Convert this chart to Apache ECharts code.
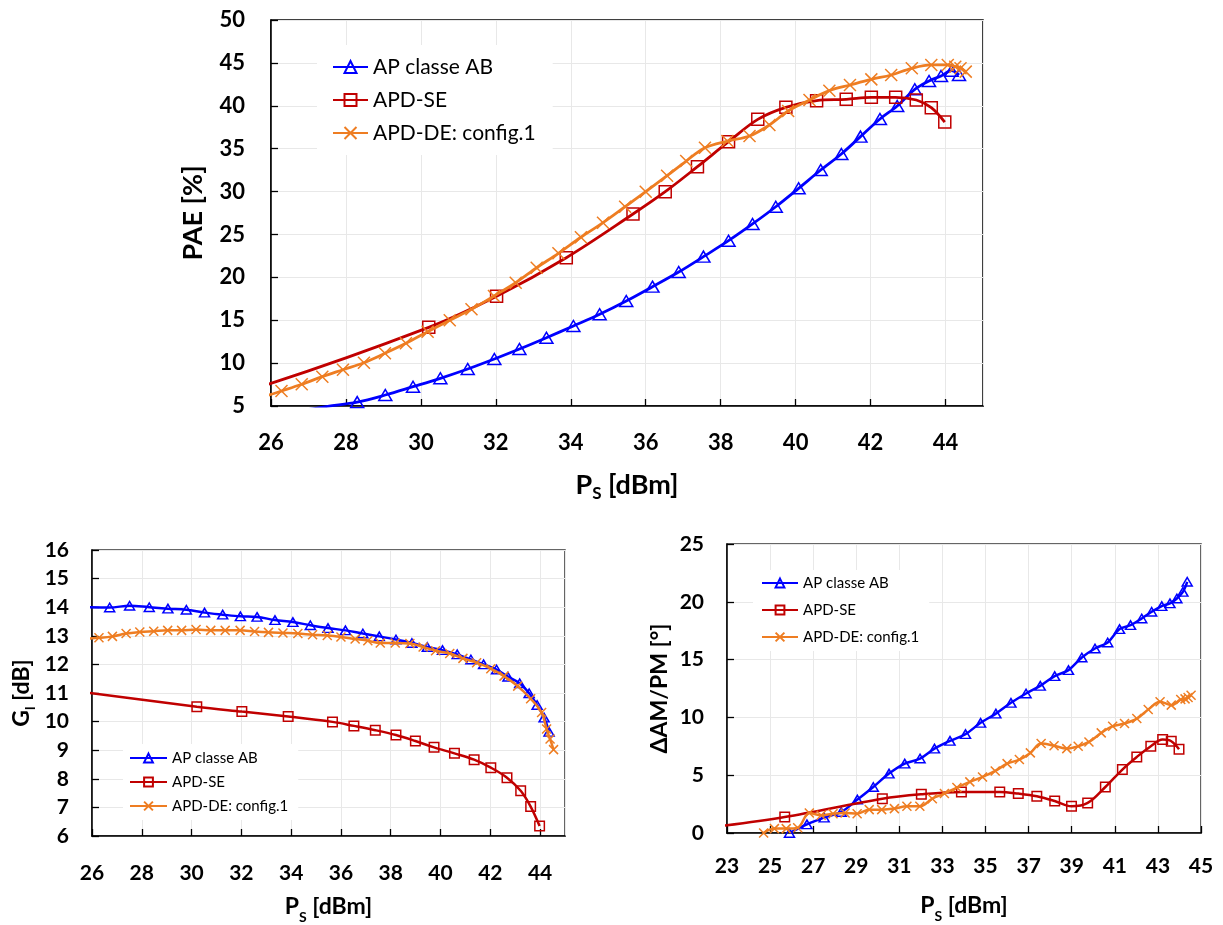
<!DOCTYPE html>
<html><head><meta charset="utf-8">
<script src="https://cdn.jsdelivr.net/npm/echarts@6/dist/echarts.min.js"></script>
<style>html,body{margin:0;padding:0;background:#fff}#c{width:1223px;height:925px}</style>
</head><body><div id="c"></div>
<script>
// ---------- DATA ----------
const seriesNames = ['AP classe AB', 'APD-SE', 'APD-DE: config.1'];

// Input power sweeps (dBm) for each amplifier
const psAB = [25.9, 26.71, 27.51, 28.3, 29.05, 29.79, 30.52, 31.25, 31.96, 32.63, 33.35, 34.07, 34.77, 35.48, 36.18, 36.88, 37.54, 38.21, 38.85, 39.47, 40.08, 40.67, 41.22, 41.73, 42.25, 42.71, 43.18, 43.56, 43.88, 44.16, 44.36];
const psSE = [22.3, 25.68, 30.21, 32.02, 33.88, 35.66, 36.52, 37.38, 38.21, 38.99, 39.74, 40.56, 41.35, 42.02, 42.67, 43.22, 43.62, 43.98];
const psDE = [24.7, 25.2, 25.75, 26.28, 26.82, 27.37, 27.92, 28.48, 29.04, 29.6, 30.18, 30.77, 31.35, 31.95, 32.53, 33.09, 33.67, 34.27, 34.86, 35.45, 36.0, 36.57, 37.08, 37.58, 38.18, 38.77, 39.3, 39.8, 40.37, 40.9, 41.45, 42.02, 42.55, 43.1, 43.62, 44.06, 44.26, 44.4, 44.54];

// PAE [%]
const paeAB = [3.9, 4.4, 4.95, 5.45, 6.28, 7.25, 8.23, 9.31, 10.48, 11.64, 12.96, 14.33, 15.69, 17.24, 18.91, 20.62, 22.41, 24.27, 26.22, 28.23, 30.38, 32.51, 34.38, 36.4, 38.46, 39.97, 41.92, 42.89, 43.47, 44.09, 43.59];
const paeSE = [3.2, 7.2, 14.17, 17.79, 22.29, 27.38, 29.98, 32.9, 35.81, 38.42, 39.82, 40.6, 40.75, 40.99, 40.99, 40.67, 39.78, 38.1];
const paeDE = [4.6, 5.3, 6.0, 6.75, 7.53, 8.42, 9.23, 10.05, 11.14, 12.31, 13.66, 14.99, 16.27, 17.82, 19.37, 21.12, 22.8, 24.67, 26.37, 28.23, 29.98, 31.85, 33.56, 35.11, 35.89, 36.48, 37.76, 39.39, 40.67, 41.76, 42.42, 43.08, 43.59, 44.37, 44.76, 44.76, 44.56, 44.37, 43.98];

// Gain [dB]
const gainAB = [14.0, 13.99, 14.05, 14.0, 13.95, 13.91, 13.81, 13.74, 13.68, 13.66, 13.55, 13.48, 13.37, 13.27, 13.19, 13.08, 12.98, 12.87, 12.75, 12.61, 12.5, 12.35, 12.17, 12.0, 11.82, 11.57, 11.34, 10.99, 10.58, 10.14, 9.64];
const gainSE = [11.35, 11.03, 10.52, 10.35, 10.18, 9.99, 9.85, 9.70, 9.53, 9.32, 9.10, 8.89, 8.67, 8.39, 8.04, 7.58, 7.03, 6.35];
const gainDE = [12.85, 12.88, 12.9, 12.93, 12.98, 13.08, 13.13, 13.16, 13.19, 13.19, 13.22, 13.19, 13.19, 13.19, 13.15, 13.12, 13.1, 13.08, 13.04, 13.01, 12.96, 12.89, 12.83, 12.75, 12.75, 12.73, 12.61, 12.48, 12.38, 12.21, 12.06, 11.85, 11.59, 11.24, 10.8, 10.32, 9.74, 9.39, 9.02];

// AM/PM [deg]
const ampmAB = [0, 0.75, 1.33, 1.82, 2.89, 3.98, 5.14, 6.0, 6.44, 7.3, 7.97, 8.55, 9.53, 10.33, 11.26, 12.07, 12.73, 13.57, 14.09, 15.18, 15.96, 16.48, 17.64, 17.98, 18.56, 19.14, 19.63, 19.86, 20.29, 20.86, 21.73];
const ampmSE = [0.5, 1.39, 2.97, 3.35, 3.55, 3.55, 3.41, 3.18, 2.77, 2.31, 2.6, 3.98, 5.49, 6.58, 7.51, 8.08, 7.94, 7.25];
const ampmDE = [0.0, 0.38, 0.38, 0.46, 1.73, 1.53, 1.67, 1.73, 1.67, 2.02, 2.02, 2.11, 2.31, 2.31, 2.97, 3.41, 3.93, 4.42, 4.85, 5.37, 6.0, 6.35, 6.93, 7.74, 7.55, 7.3, 7.51, 7.88, 8.66, 9.24, 9.47, 9.9, 10.68, 11.35, 11.06, 11.55, 11.6, 11.72, 11.92];

// ---------- STYLE ----------
const FONT = 'Lato, "Open Sans", sans-serif';
const BLUE = '#0000ff', RED = '#c00000', ORANGE = '#ee7d22';
const CROSS = 'path://M0,0L10,10M10,0L0,10';
const colors = [BLUE, RED, ORANGE];
const symbols = ['triangle', 'rect', CROSS];

function pairs(xs, ys) { return xs.map((x, i) => [x, ys[i]]); }

function mkSeries(idx, gi, xs, ys, big) {
  const sizes = big ? [[13, 11], 12, 12] : [[10, 8.5], 9.5, 9];
  return {
    type: 'line', name: seriesNames[idx], xAxisIndex: gi, yAxisIndex: gi,
    data: pairs(xs, ys), smooth: 0.35, symbol: symbols[idx], symbolSize: sizes[idx],
    showAllSymbol: true, clip: true,
    lineStyle: { color: colors[idx], width: big ? 2.8 : 2.5 },
    itemStyle: { color: 'transparent', borderColor: colors[idx], borderWidth: 1.5 },
    emphasis: { disabled: true }, z: 2 + idx
  };
}

const lbl = (size) => ({ fontSize: size, fontWeight: 'bold', fontFamily: FONT, color: '#000' });

function xAx(gi, min, max, size, margin, name, nameGap, nsize, hideMax) {
  return {
    type: 'value', gridIndex: gi, min: min, max: max, interval: 2,
    axisLine: { onZero: false, lineStyle: { color: '#000', width: 1.5 } },
    axisTick: { inside: true, length: 7, lineStyle: { color: '#000', width: 1.3 } },
    axisLabel: Object.assign({ margin: margin, showMaxLabel: !hideMax }, lbl(size)),
    splitLine: { show: true, lineStyle: { color: '#e8e8e8', width: 1 } },
    name: name, nameLocation: 'middle', nameGap: nameGap,
    nameTextStyle: {
      rich: {
        n: { fontSize: nsize, fontWeight: 'bold', fontFamily: FONT, color: '#000', lineHeight: 34, verticalAlign: 'middle' },
        s: { fontSize: Math.round(nsize * 0.62), fontWeight: 'bold', fontFamily: FONT, color: '#000', lineHeight: 14, verticalAlign: 'bottom' }
      }
    }
  };
}
function yAx(gi, min, max, interval, size, margin, name, nameGap, nsize) {
  return {
    type: 'value', gridIndex: gi, min: min, max: max, interval: interval,
    axisLine: { onZero: false, lineStyle: { color: '#000', width: 1.5 } },
    axisTick: { inside: true, length: 7, lineStyle: { color: '#000', width: 1.3 } },
    axisLabel: Object.assign({ margin: margin }, lbl(size)),
    splitLine: { show: true, lineStyle: { color: '#e8e8e8', width: 1 } },
    name: name, nameLocation: 'middle', nameGap: nameGap, nameRotate: 90,
    nameTextStyle: {
      fontSize: nsize, fontWeight: 'bold', fontFamily: FONT, color: '#000', lineHeight: 30,
      rich: {
        n: { fontSize: nsize, fontWeight: 'bold', fontFamily: FONT, color: '#000', lineHeight: 30, verticalAlign: 'middle' },
        s: { fontSize: Math.round(nsize * 0.62), fontWeight: 'bold', fontFamily: FONT, color: '#000', lineHeight: 12, verticalAlign: 'bottom' }
      }
    }
  };
}
function legend(left, top, pad, iw, ih, gap, fsize, lh) {
  return {
    left: left, top: top, orient: 'vertical', padding: pad, backgroundColor: '#fff',
    itemWidth: iw, itemHeight: ih, itemGap: gap, selectedMode: false,
    textStyle: { fontSize: fsize, fontFamily: FONT, color: '#000', lineHeight: lh },
    data: seriesNames
  };
}

const chart = echarts.init(document.getElementById('c'), null, { renderer: 'canvas' });
chart.setOption({
  animation: false,
  backgroundColor: '#fff',
  grid: [
    { left: 271, top: 20, width: 712, height: 386, show: true, borderColor: '#000', borderWidth: 1.5 },
    { left: 92, top: 550, width: 473, height: 287, show: true, borderColor: '#333', borderWidth: 1.5 },
    { left: 727, top: 544, width: 474, height: 289, show: true, borderColor: '#333', borderWidth: 1.5 }
  ],
  legend: [
    legend(317, 45, [11, 17, 11, 15], 35, 15, 11, 21, 22),
    legend(123, 744, [6, 10, 6, 6], 37, 11, 8, 15, 16),
    legend(753, 570, [5, 10, 6, 8], 36, 11, 11, 15, 16)
  ],
  xAxis: [
    xAx(0, 26, 45, 22, 26, '{n|P}{s|S}{n| [dBm]}', 62, 27, true),
    xAx(1, 26, 45, 21, 27, '{n|P}{s|S}{n| [dBm]}', 54, 23, true),
    xAx(2, 23, 45, 21, 23, '{n|P}{s|S}{n| [dBm]}', 56, 23, false)
  ],
  yAxis: [
    yAx(0, 5, 50, 5, 22, 26, 'PAE [%]', 62, 27),
    yAx(1, 6, 16, 1, 21, 23, '{n|G}{s|l}{n| [dB]}', 55, 23),
    yAx(2, 0, 25, 5, 21, 23, 'ΔAM/PM [°]', 52, 23)
  ],
  series: [
    mkSeries(0, 0, psAB, paeAB, true),
    mkSeries(1, 0, psSE, paeSE, true),
    mkSeries(2, 0, psDE, paeDE, true),
    mkSeries(0, 1, psAB, gainAB, false),
    mkSeries(1, 1, psSE, gainSE, false),
    mkSeries(2, 1, psDE, gainDE, false),
    mkSeries(0, 2, psAB, ampmAB, false),
    mkSeries(1, 2, psSE, ampmSE, false),
    mkSeries(2, 2, psDE, ampmDE, false)
  ]
});
</script></body></html>
